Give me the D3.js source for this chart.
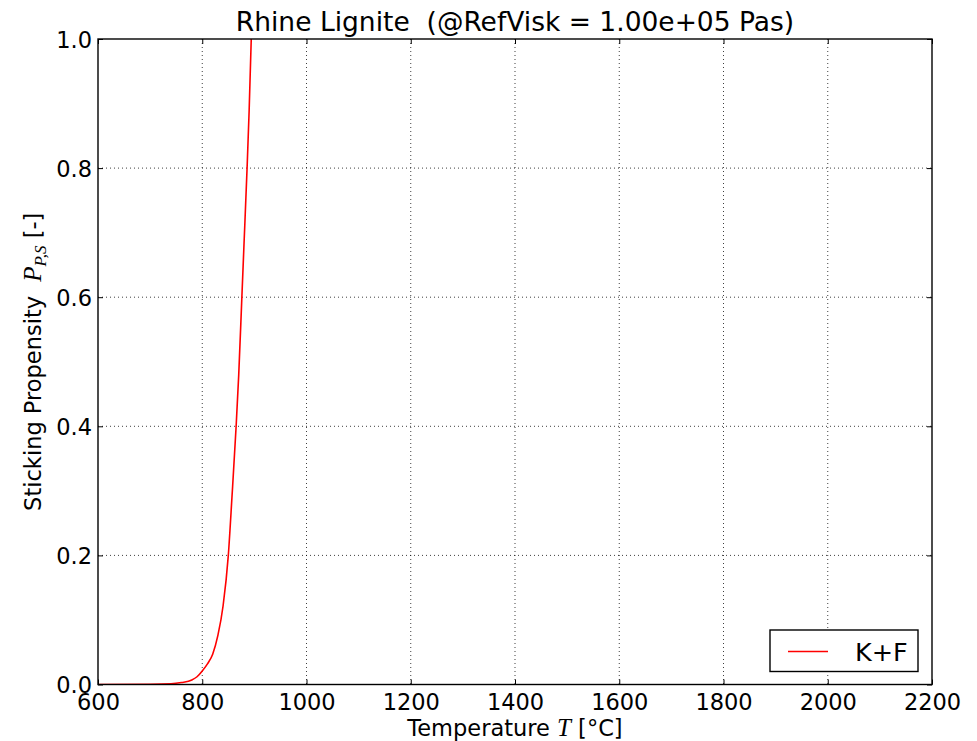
<!DOCTYPE html>
<html>
<head>
<meta charset="utf-8">
<script src="https://cdn.jsdelivr.net/npm/d3@7"></script>
<style>
  html, body { margin: 0; padding: 0; background: #fff; }
  svg { display: block; font-family: "DejaVu Sans", sans-serif; }
  svg text { white-space: pre; }
</style>
</head>
<body>
<svg id="chart" width="977" height="741"></svg>
<script>
// Sticking propensity of Rhine lignite ash vs temperature (K+F model)
const temperature = [600, 700, 740, 760, 780, 790, 800, 810, 820, 830, 840, 850, 857, 865, 870, 876, 880, 886, 890, 894];
const stickingKF  = [0, 0.0002, 0.001, 0.003, 0.007, 0.012, 0.021, 0.032, 0.047, 0.076, 0.122, 0.20, 0.29, 0.40, 0.48, 0.60, 0.68, 0.80, 0.89, 1.0];
const xTicks = [600, 800, 1000, 1200, 1400, 1600, 1800, 2000, 2200];
const yTicks = [0.0, 0.2, 0.4, 0.6, 0.8, 1.0];
const seriesName = "K+F";
const titleText = "Rhine Lignite  (@RefVisk = 1.00e+05 Pas)";

const svg = d3.select("#chart");
const margin = { left: 98, right: 45, top: 39, bottom: 56.5 };
const W = 977, H = 741;
const pw = W - margin.left - margin.right;
const ph = H - margin.top - margin.bottom;
const mathFont = "Liberation Serif";

const x = d3.scaleLinear().domain([600, 2200]).range([0, pw]);
const y = d3.scaleLinear().domain([0, 1]).range([ph, 0]);

const g = svg.append("g").attr("transform", `translate(${margin.left},${margin.top})`);

// dotted grid
g.append("g").selectAll("line").data(xTicks.slice(1, -1)).join("line")
  .attr("x1", d => x(d)).attr("x2", d => x(d)).attr("y1", 0).attr("y2", ph)
  .attr("stroke", "#000").attr("stroke-width", 1).attr("stroke-dasharray", "1,3").attr("opacity", 0.75);
g.append("g").selectAll("line").data(yTicks.slice(1, -1)).join("line")
  .attr("y1", d => y(d)).attr("y2", d => y(d)).attr("x1", 0).attr("x2", pw)
  .attr("stroke", "#000").attr("stroke-width", 1).attr("stroke-dasharray", "1,3").attr("opacity", 0.75);

// curve, clipped to the axes
svg.append("defs").append("clipPath").attr("id", "clip")
  .append("rect").attr("width", pw).attr("height", ph);
const line = d3.line().x(d => x(d[0])).y(d => y(d[1])).curve(d3.curveMonotoneX);
g.append("path")
  .datum(temperature.map((t, i) => [t, stickingKF[i]]))
  .attr("clip-path", "url(#clip)")
  .attr("fill", "none").attr("stroke", "#ff0000").attr("stroke-width", 1.6)
  .attr("d", line);

// axes with inward ticks on all four sides
const axBottom = g.append("g").attr("transform", `translate(0,${ph})`)
  .call(d3.axisBottom(x).tickValues(xTicks).tickSize(-5).tickFormat(d3.format("d")));
const axTop = g.append("g")
  .call(d3.axisTop(x).tickValues(xTicks).tickSize(-5).tickFormat(""));
const axLeft = g.append("g")
  .call(d3.axisLeft(y).tickValues(yTicks).tickSize(-5).tickFormat(d3.format(".1f")));
const axRight = g.append("g").attr("transform", `translate(${pw},0)`)
  .call(d3.axisRight(y).tickValues(yTicks).tickSize(-5).tickFormat(""));
[axBottom, axTop, axLeft, axRight].forEach(a => {
  a.select(".domain").remove();
  a.selectAll(".tick line").attr("stroke", "#000").attr("stroke-width", 1);
  a.selectAll("text").attr("font-family", "DejaVu Sans").attr("font-size", 22.5).attr("fill", "#000");
});
axBottom.selectAll("text").attr("dy", 0).attr("y", 25.5);
axLeft.selectAll("text").attr("x", -6).attr("dy", "0.36em");

// frame
g.append("rect").attr("width", pw).attr("height", ph)
  .attr("fill", "none").attr("stroke", "#000").attr("stroke-width", 1.4);

// title
svg.append("text").attr("x", margin.left + pw / 2).attr("y", 31)
  .attr("text-anchor", "middle").attr("font-size", 26.5).text(titleText);

// x label
const xl = svg.append("text").attr("x", margin.left + pw / 2).attr("y", 736)
  .attr("text-anchor", "middle").attr("font-size", 22.5);
xl.append("tspan").text("Temperature ");
xl.append("tspan").attr("font-family", mathFont).attr("font-style", "italic")
  .attr("font-size", 25).text("T");
xl.append("tspan").text(" [°C]");

// y label
const yl = svg.append("text")
  .attr("transform", `translate(41,${margin.top + ph / 2}) rotate(-90)`)
  .attr("text-anchor", "middle").attr("font-size", 22.5);
yl.append("tspan").text("Sticking Propensity  ");
yl.append("tspan").attr("font-family", mathFont).attr("font-style", "italic")
  .attr("font-size", 25).text("P");
yl.append("tspan").attr("font-family", mathFont).attr("font-style", "italic")
  .attr("font-size", 17).attr("dy", 5).text("P,S");
yl.append("tspan").attr("dy", -5).text(" [-]");

// legend
const lg = svg.append("g").attr("transform", `translate(770,630)`);
lg.append("rect").attr("width", 148).attr("height", 41.5)
  .attr("fill", "#fff").attr("stroke", "#000").attr("stroke-width", 1.4);
lg.append("line").attr("x1", 18).attr("x2", 58).attr("y1", 21.5).attr("y2", 21.5)
  .attr("stroke", "#ff0000").attr("stroke-width", 1.6);
lg.append("text").attr("x", 85).attr("y", 30.5).attr("font-size", 25.5).text(seriesName);
</script>
</body>
</html>
